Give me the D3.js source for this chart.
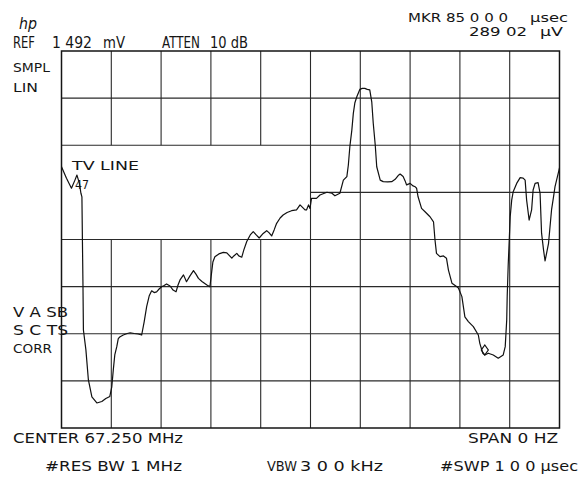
<!DOCTYPE html>
<html>
<head>
<meta charset="utf-8">
<script src="https://cdn.jsdelivr.net/npm/d3@7"></script>
<style>
  html, body { margin: 0; padding: 0; background: #fff; }
  svg { display: block; }
  text { font-family: "DejaVu Sans", "Liberation Sans", sans-serif; fill: #151515; }
</style>
</head>
<body>
<svg id="chart" width="581" height="477"></svg>
<script>
// Zero-span sweep of a TV line: time across the 100 µs sweep, linear amplitude in mV
const timeUs = [
  0.0, 1.0, 2.0, 2.7, 3.1, 3.6, 3.9, 4.1, 4.2, 4.3, 4.4, 4.9, 5.4, 6.1, 7.1, 8.1, 8.9, 9.7,
  10.1, 10.4, 10.7, 11.1, 11.4, 11.7, 12.4, 13.2, 13.8, 14.6, 15.4, 16.1, 16.6, 17.1, 17.6,
  18.1, 18.6, 19.1, 19.6, 20.1, 20.6, 21.1, 21.8, 22.4, 23.0, 23.4, 23.8, 24.5, 25.1, 25.8,
  26.5, 27.0, 27.5, 28.2, 29.2, 29.8, 30.2, 30.4, 30.8, 31.6, 32.5, 33.2, 34.2, 34.6, 35.2,
  35.6, 36.2, 36.6, 37.2, 37.9, 38.5, 39.1, 39.7, 40.5, 41.2, 41.7, 42.2, 42.7, 43.2, 43.9,
  44.5, 45.3, 46.2, 47.2, 47.9, 48.5, 48.9, 49.2, 49.6, 49.9, 50.2, 51.2, 51.9, 53.3, 54.3,
  54.9, 55.9, 56.6, 57.3, 57.6, 57.9, 58.3, 58.6, 58.9, 59.3, 59.9, 60.4, 60.9, 61.4, 61.9,
  62.3, 62.6, 63.0, 63.3, 64.0, 64.6, 65.5, 66.3, 67.0, 67.6, 68.0, 68.6, 69.0, 69.3, 70.0,
  70.6, 71.0, 71.3, 71.6, 72.3, 73.0, 74.0, 74.7, 75.0, 75.3, 76.0, 76.7, 77.3, 77.7, 78.4,
  79.4, 79.7, 80.4, 81.0, 81.7, 82.7, 83.7, 84.0, 84.6, 85.0, 85.7, 86.7, 87.7, 88.7, 89.1,
  89.4, 89.5, 89.7, 90.1, 90.4, 90.7, 91.4, 92.1, 92.7, 93.1, 93.4, 93.9, 94.4, 94.7, 95.1,
  95.7, 96.1, 96.4, 96.8, 97.1, 97.8, 98.4, 98.8, 99.1, 99.8, 100.0
];
const levelMv = [
  1.034, 0.988, 0.949, 0.981, 1.001, 0.968, 0.929, 0.915, 0.744, 0.586, 0.388, 0.309, 0.190, 0.123, 0.099, 0.105, 0.117, 0.125,
  0.163, 0.230, 0.289, 0.322, 0.354, 0.360, 0.368, 0.374, 0.377, 0.374, 0.372, 0.368, 0.420, 0.480, 0.522,
  0.543, 0.536, 0.539, 0.550, 0.559, 0.564, 0.570, 0.562, 0.546, 0.539, 0.566, 0.586, 0.606, 0.579, 0.602,
  0.623, 0.609, 0.592, 0.580, 0.566, 0.559, 0.625, 0.657, 0.678, 0.689, 0.695, 0.693, 0.672, 0.681, 0.691,
  0.681, 0.676, 0.704, 0.738, 0.764, 0.777, 0.764, 0.752, 0.770, 0.781, 0.772, 0.760, 0.784, 0.810, 0.831,
  0.843, 0.853, 0.860, 0.863, 0.883, 0.871, 0.863, 0.863, 0.883, 0.869, 0.909, 0.909, 0.922, 0.933, 0.929,
  0.919, 0.929, 0.981, 0.995, 1.041, 1.113, 1.179, 1.245, 1.286, 1.311, 1.340, 1.344, 1.344, 1.340, 1.338,
  1.291, 1.206, 1.120, 1.034, 0.981, 0.975, 0.974, 0.975, 0.984, 0.999, 1.005, 0.995, 0.978, 0.962, 0.968,
  0.958, 0.955, 0.949, 0.915, 0.869, 0.856, 0.836, 0.816, 0.744, 0.691, 0.678, 0.681, 0.672, 0.625, 0.573,
  0.559, 0.554, 0.520, 0.440, 0.421, 0.401, 0.368, 0.335, 0.296, 0.289, 0.296, 0.289, 0.276, 0.289, 0.322,
  0.427, 0.522, 0.645, 0.836, 0.902, 0.935, 0.968, 0.991, 0.989, 0.981, 0.902, 0.823, 0.863, 0.942, 0.968,
  0.971, 0.929, 0.771, 0.704, 0.661, 0.731, 0.863, 0.915, 0.955, 1.013, 1.029
];

// Instrument settings
const refLevelMv = 1.492;
const sweepTimeUs = 100;
const xDivisions = 10;
const yDivisions = 8;
const markerTimeUs = 85.0;
const markerLevelMv = 0.28902;

const svg = d3.select("#chart");
const plot = { left: 61.5, right: 559.5, top: 51, bottom: 428 };

const x = d3.scaleLinear().domain([0, sweepTimeUs]).range([plot.left, plot.right]);
const y = d3.scaleLinear().domain([0, refLevelMv]).range([plot.bottom, plot.top]);

const xGrid = d3.range(0, xDivisions + 1).map(i => i * sweepTimeUs / xDivisions);
const yGrid = d3.range(0, yDivisions + 1).map(i => i * refLevelMv / yDivisions);

// Annotation window (left half, third and fourth rows from top) is left blank
const boxX1 = x(xGrid[5]);
const boxY0 = y(yGrid[6]), boxY1 = y(yGrid[4]);

const grid = svg.append("g").attr("stroke", "#2a2a2a").attr("stroke-width", 1.1).attr("fill", "none");

// vertical division lines
xGrid.slice(1, -1).forEach(t => {
  const px = x(t);
  if (px < boxX1 - 1) {
    grid.append("line").attr("x1", px).attr("x2", px).attr("y1", plot.top).attr("y2", boxY0);
    grid.append("line").attr("x1", px).attr("x2", px).attr("y1", boxY1).attr("y2", plot.bottom);
  } else {
    grid.append("line").attr("x1", px).attr("x2", px).attr("y1", plot.top).attr("y2", plot.bottom);
  }
});

// horizontal division lines
yGrid.slice(1, -1).forEach(v => {
  const py = y(v);
  if (py > boxY0 + 1 && py < boxY1 - 1) {
    grid.append("line").attr("x1", boxX1).attr("x2", plot.right).attr("y1", py).attr("y2", py);
  } else {
    grid.append("line").attr("x1", plot.left).attr("x2", plot.right).attr("y1", py).attr("y2", py);
  }
});

// graticule border
svg.append("rect")
  .attr("x", plot.left).attr("y", plot.top)
  .attr("width", plot.right - plot.left).attr("height", plot.bottom - plot.top)
  .attr("fill", "none").attr("stroke", "#151515").attr("stroke-width", 1.5);

// trace
const trace = timeUs.map((t, i) => ({ t, v: levelMv[i] }));
svg.append("path")
  .datum(trace)
  .attr("fill", "none")
  .attr("stroke", "#111")
  .attr("stroke-width", 1.2)
  .attr("stroke-linejoin", "round")
  .attr("d", d3.line().x(d => x(d.t)).y(d => y(d.v)));

// marker diamond sitting on the trace
const mx = x(markerTimeUs), my = y(markerLevelMv);
svg.append("path")
  .attr("d", `M${mx},${my} L${mx + 3.5},${my - 5} L${mx},${my - 10} L${mx - 3.5},${my - 5} Z`)
  .attr("fill", "none").attr("stroke", "#111").attr("stroke-width", 1.2);

// screen annotations: [text, left, baseline, font size, ink width]
const labels = [
  ["REF", 13, 48, 15, 22],
  ["1 492", 52, 48, 15, 40],
  ["mV", 103, 48, 15, 22],
  ["ATTEN", 162, 48, 15, 38],
  ["10 dB", 210, 48, 15, 38],
  ["MKR 85 0 0 0", 408, 22, 12.5, 100],
  ["µsec", 530, 22, 12.5, 38],
  ["289 02", 469, 36, 12.5, 58],
  ["µV", 540, 36, 12.5, 23],
  ["SMPL", 13, 72, 12.5, 37],
  ["LIN", 13, 92, 12.5, 25],
  ["TV LINE", 72, 170, 12.5, 67],
  ["47", 75, 189, 12.5, 14],
  ["V A SB", 13, 317, 13.5, 55],
  ["S C TS", 13, 335, 13.5, 55],
  ["CORR", 13, 353, 12.5, 39],
  ["CENTER 67.250 MHz", 13, 443, 14, 170],
  ["SPAN 0 HZ", 468, 443, 14, 90],
  ["#RES BW 1 MHz", 45, 471, 13.5, 137],
  ["VBW", 267, 471, 13.5, 30],
  ["3 0 0 kHz", 300, 471, 13.5, 83],
  ["#SWP 1 0 0 µsec", 440, 471, 13.5, 138]
];

svg.append("g").selectAll("text")
  .data(labels)
  .join("text")
  .attr("x", d => d[1])
  .attr("y", d => d[2])
  .attr("font-size", d => d[3])
  .attr("textLength", d => d[4])
  .attr("lengthAdjust", "spacingAndGlyphs")
  .text(d => d[0]);

// maker logo
svg.append("text")
  .attr("x", 19).attr("y", 29)
  .attr("font-family", "DejaVu Serif, serif")
  .attr("font-style", "italic")
  .attr("font-size", 15)
  .attr("textLength", 18)
  .attr("lengthAdjust", "spacingAndGlyphs")
  .text("hp");
</script>
</body>
</html>
